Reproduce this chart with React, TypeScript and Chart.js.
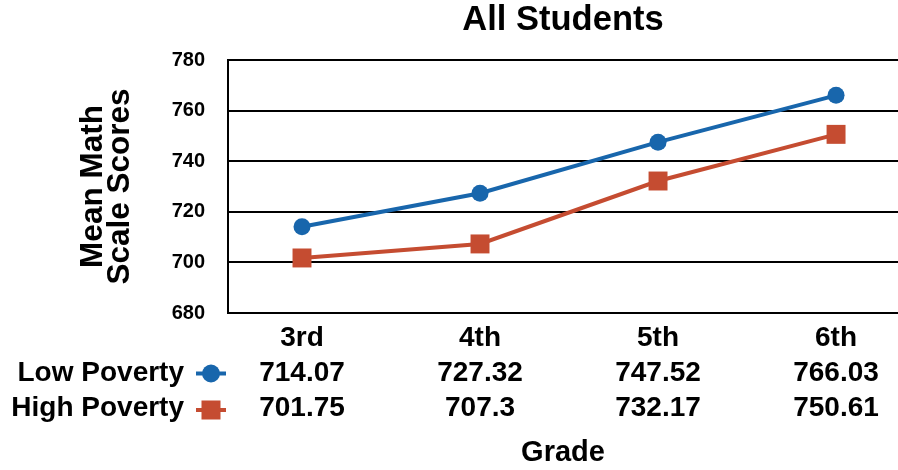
import React, { useEffect, useRef } from 'react';
import { Chart, registerables } from 'chart.js';

Chart.register(...registerables);

// Grade levels shown along the horizontal axis
const grades = ['3rd', '4th', '5th', '6th'];
// Mean math scale scores by grade
const lowPoverty = [714.07, 727.32, 747.52, 766.03];
const highPoverty = [701.75, 707.3, 732.17, 750.61];
// Value axis range
const yMin = 680;
const yMax = 780;
const yStep = 20;

const FONT = '"Liberation Sans", Arial, Helvetica, sans-serif';
const BLUE = '#1866AC';
const RED = '#C54C31';

type Row = { label: string; values: number[]; color: string; style: 'circle' | 'rect' };
const tableRows: Row[] = [
  { label: 'Low Poverty', values: lowPoverty, color: BLUE, style: 'circle' },
  { label: 'High Poverty', values: highPoverty, color: RED, style: 'rect' },
];

// Draws the data table (row labels, legend keys and values) under the category labels
const dataTablePlugin = {
  id: 'dataTable',
  afterDraw(chart: any) {
    const { ctx, chartArea } = chart;
    const xScale = chart.scales.x;
    const rowOffsets = [60.5, 95];
    const keyOffsets = [60.5, 97];
    ctx.save();
    ctx.font = `bold 28px ${FONT}`;
    ctx.textBaseline = 'middle';
    tableRows.forEach((row, r) => {
      const y = chartArea.bottom + rowOffsets[r];
      const ky = chartArea.bottom + keyOffsets[r];
      ctx.fillStyle = '#000';
      ctx.textAlign = 'right';
      ctx.fillText(row.label, 184, y);

      // legend key: short line with the series marker
      ctx.strokeStyle = row.color;
      ctx.lineWidth = 4;
      ctx.beginPath();
      ctx.moveTo(196, ky);
      ctx.lineTo(226, ky);
      ctx.stroke();
      ctx.fillStyle = row.color;
      if (row.style === 'circle') {
        ctx.beginPath();
        ctx.arc(211, ky, 9, 0, Math.PI * 2);
        ctx.fill();
      } else {
        ctx.fillRect(211 - 9.5, ky - 9.5, 19, 19);
      }

      ctx.fillStyle = '#000';
      ctx.textAlign = 'center';
      row.values.forEach((v, i) => {
        ctx.fillText(String(v), xScale.getPixelForValue(i), y);
      });
    });
    ctx.restore();
  },
};

export default function App() {
  const canvasRef = useRef<HTMLCanvasElement | null>(null);

  useEffect(() => {
    if (!canvasRef.current) return;
    const chart = new Chart(canvasRef.current, {
      type: 'line',
      data: {
        datasets: [
          {
            label: 'Low Poverty',
            data: lowPoverty.map((v, i) => ({ x: i, y: v })),
            borderColor: BLUE,
            backgroundColor: BLUE,
            borderWidth: 4,
            pointStyle: 'circle',
            pointRadius: 8.5,
            pointBorderWidth: 0,
            pointBackgroundColor: BLUE,
            tension: 0,
          },
          {
            label: 'High Poverty',
            data: highPoverty.map((v, i) => ({ x: i, y: v })),
            borderColor: RED,
            backgroundColor: RED,
            borderWidth: 4,
            pointStyle: 'rect',
            pointRadius: 13.4,
            pointBorderWidth: 0,
            pointBackgroundColor: RED,
            tension: 0,
          },
        ],
      },
      options: {
        animation: false,
        responsive: false,
        layout: { padding: 0, autoPadding: false },
        plugins: {
          legend: { display: false },
          tooltip: { enabled: false },
          title: {
            display: true,
            fullSize: false,
            text: 'All Students',
            color: '#000',
            font: { family: FONT, size: 34.5, weight: 'bold', lineHeight: 1.2 },
            padding: { top: 0, bottom: 18.6 },
          },
        },
        scales: {
          x: {
            type: 'linear',
            min: -0.4157,
            max: 3.348,
            afterBuildTicks: (scale: any) => {
              scale.ticks = grades.map((_, i) => ({ value: i }));
            },
            afterFit: (scale: any) => {
              scale.height = 157;
              scale.paddingLeft = 0;
              scale.paddingRight = 0;
            },
            grid: { display: false, drawTicks: false },
            border: { display: true, color: '#000', width: 2 },
            ticks: {
              color: '#000',
              padding: 8,
              maxRotation: 0,
              autoSkip: false,
              font: { family: FONT, size: 28, weight: 'bold', lineHeight: 1.2 },
              callback: (value: any) => grades[Math.round(Number(value))] ?? '',
            },
            title: {
              display: true,
              text: 'Grade',
              color: '#000',
              font: { family: FONT, size: 29, weight: 'bold', lineHeight: 1.2 },
              padding: { top: 0, bottom: 0 },
            },
          },
          y: {
            min: yMin,
            max: yMax,
            afterFit: (scale: any) => {
              scale.width = 228;
              scale.paddingTop = 0;
              scale.paddingBottom = 0;
            },
            grid: { color: '#000', lineWidth: 2, drawTicks: false },
            border: { display: true, color: '#000', width: 2 },
            ticks: {
              stepSize: yStep,
              color: '#000',
              padding: 23,
              font: { family: FONT, size: 20, weight: 'bold' },
            },
            title: {
              display: true,
              text: ['Mean Math', 'Scale Scores'],
              color: '#000',
              font: { family: FONT, size: 31.5, weight: 'bold', lineHeight: 0.85 },
              padding: { top: 80, bottom: 0 },
            },
          },
        },
      },
      plugins: [dataTablePlugin],
    });
    return () => chart.destroy();
  }, []);

  return (
    <div style={{ position: 'fixed', left: 0, top: 0, width: 898, height: 470, background: '#fff' }}>
      <canvas ref={canvasRef} width={898} height={470} style={{ display: 'block' }} />
    </div>
  );
}
